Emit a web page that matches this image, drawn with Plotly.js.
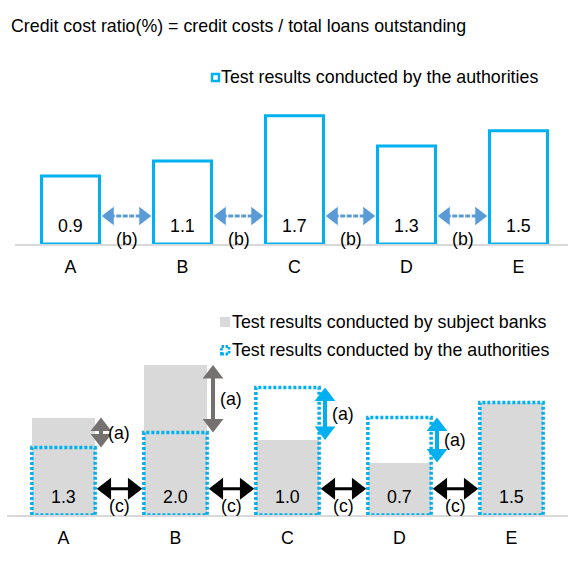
<!DOCTYPE html>
<html>
<head>
<meta charset="utf-8">
<script src="https://cdn.plot.ly/plotly-3.0.1.min.js"></script>
<style>html,body{margin:0;padding:0;background:#fff;}#chart{width:568px;height:570px;}</style>
</head>
<body>
<div id="chart"></div>
<script>
// ---- data ----
const categories = ['A', 'B', 'C', 'D', 'E'];
const authorities = [0.9, 1.1, 1.7, 1.3, 1.5];      // test results conducted by the authorities
const subjectBanks = [1.3, 2.0, 1.0, 0.7, 1.5];     // test results conducted by subject banks
const titleText = 'Credit cost ratio(%) = credit costs / total loans outstanding';
const legendAuthorities = 'Test results conducted by the authorities';
const legendBanks = 'Test results conducted by subject banks';
const gapLabelTop = '(b)';
const gapLabelBottom = '(c)';
const diffLabel = '(a)';

// ---- style ----
const FONT = 'Liberation Sans, Arial, sans-serif';
const FS = 17.8;
const BLUE = '#00B0F0';
const ARROW_B = '#5B9BD5';
const GRAY = '#D9D9D9';
const DARKGRAY = '#767171';
const W = 568, H = 570;
const px = v => v / W;
const py = v => 1 - v / H;

const idx = categories.map((_, i) => i);
const topW = 0.518, grayW = 0.555, dotW = 0.565;

// axis geometry (pixels)
const TOP = { xd: [15, 568], xr: [-0.4955, 4.442], yd: [244, 78], yr: [0, 2.2] };
const BOT = { xd: [7, 568], xr: [-0.5045, 4.5045], yd: [515, 335], yr: [0, 2.4] };
const scaleOf = g => ({
  sx: (g.xd[1] - g.xd[0]) / (g.xr[1] - g.xr[0]),
  sy: (g.yd[0] - g.yd[1]) / (g.yr[1] - g.yr[0])
});

// double-headed arrow built from a line and two triangle markers
function arrow(x0, y0, x1, y1, xa, ya, sc, color, lw, size, dash) {
  const ux = (x1 - x0) * sc.sx, uy = (y1 - y0) * sc.sy;
  const L = Math.hypot(ux, uy);
  const ex = ux / L, ey = uy / L;
  const r = size / 2;
  const sxC = x0 + ex * r / sc.sx, syC = y0 + ey * r / sc.sy;
  const exC = x1 - ex * r / sc.sx, eyC = y1 - ey * r / sc.sy;
  const horiz = Math.abs(ex) > Math.abs(ey);
  const endSym = horiz ? (ex > 0 ? 'triangle-right' : 'triangle-left') : (ey > 0 ? 'triangle-up' : 'triangle-down');
  const startSym = horiz ? (ex > 0 ? 'triangle-left' : 'triangle-right') : (ey > 0 ? 'triangle-down' : 'triangle-up');
  return [
    { type: 'scatter', mode: 'lines', x: [sxC, exC], y: [syC, eyC], xaxis: xa, yaxis: ya,
      line: { color: color, width: lw, dash: dash || 'solid' }, showlegend: false,
      cliponaxis: false, hoverinfo: 'skip' },
    { type: 'scatter', mode: 'markers', x: [sxC, exC], y: [syC, eyC], xaxis: xa, yaxis: ya,
      marker: { symbol: [startSym, endSym], size: size, color: color, line: { width: 0 } },
      showlegend: false, cliponaxis: false, hoverinfo: 'skip' }
  ];
}

// dotted outline path for bottom authorities bars
const dx = [], dy = [];
authorities.forEach((v, i) => {
  const h = dotW / 2;
  dx.push(i - h, i - h, i + h, i + h, i - h, null);
  dy.push(0, v, v, 0, 0, null);
});

const traces = [
  { type: 'bar', x: idx, y: authorities, width: topW, xaxis: 'x', yaxis: 'y',
    marker: { color: '#ffffff', line: { color: BLUE, width: 3 } },
    name: legendAuthorities, showlegend: false, cliponaxis: false, hoverinfo: 'y' },
  { type: 'bar', x: idx, y: subjectBanks, width: grayW, xaxis: 'x2', yaxis: 'y2',
    marker: { color: GRAY, line: { width: 0 } },
    name: legendBanks, showlegend: false, cliponaxis: false, hoverinfo: 'y' },
  { type: 'scatter', mode: 'lines', x: dx, y: dy, xaxis: 'x2', yaxis: 'y2',
    line: { color: BLUE, width: 3.5, dash: '3px,2px' },
    name: legendAuthorities, showlegend: false, cliponaxis: false, hoverinfo: 'skip' }
];

const ann = [];
const txtFont = { family: FONT, size: FS, color: '#000' };
const scTop = scaleOf(TOP), scBot = scaleOf(BOT);

// value labels
authorities.forEach((v, i) => ann.push({ xref: 'x', yref: 'y', x: i, y: 0, yshift: 18,
  text: v.toFixed(1), showarrow: false, font: txtFont }));
subjectBanks.forEach((v, i) => ann.push({ xref: 'x2', yref: 'y2', x: i, y: 0, yshift: 18,
  text: v.toFixed(1), showarrow: false, font: txtFont }));

// (b) arrows between top bars
const arrowYTop = 0.37, arrowYBot = 0.35;
for (let i = 0; i < categories.length - 1; i++) {
  const a = i + topW / 2 + 0.02, b = i + 1 - topW / 2 - 0.02;
  traces.push(...arrow(a, arrowYTop, b, arrowYTop, 'x', 'y', scTop, ARROW_B, 3, 16, '5px,1.5px'));
  ann.push({ xref: 'x', yref: 'y', x: i + 0.5, y: 0, yshift: 5, text: gapLabelTop,
    showarrow: false, font: txtFont });
}
// (c) arrows between bottom bars
for (let i = 0; i < categories.length - 1; i++) {
  const a = i + dotW / 2 + 0.015, b = i + 1 - dotW / 2 - 0.015;
  traces.push(...arrow(a, arrowYBot, b, arrowYBot, 'x2', 'y2', scBot, '#000', 3, 19));
  ann.push({ xref: 'x2', yref: 'y2', x: i + 0.5, y: 0, yshift: 9, text: gapLabelBottom,
    showarrow: false, font: txtFont });
}
// (a) arrows: difference between subject banks and authorities
subjectBanks.forEach((s, i) => {
  const a = authorities[i];
  if (Math.abs(s - a) < 1e-9) return;
  const col = s > a ? DARKGRAY : BLUE;
  const xa = i + 0.335;
  traces.push(...arrow(xa, a, xa, s, 'x2', 'y2', scBot, col, 4, 18));
  ann.push({ xref: 'x2', yref: 'y2', x: xa, y: (s + a) / 2, xanchor: 'left', xshift: 5,
    text: diffLabel, showarrow: false, font: txtFont });
});

// manual legends
ann.push({ xref: 'paper', yref: 'paper', x: px(219), y: py(77), xanchor: 'left', yanchor: 'middle',
  text: legendAuthorities, showarrow: false, font: txtFont });
ann.push({ xref: 'paper', yref: 'paper', x: px(230), y: py(322), xanchor: 'left', yanchor: 'middle',
  text: legendBanks, showarrow: false, font: txtFont });
ann.push({ xref: 'paper', yref: 'paper', x: px(230), y: py(350), xanchor: 'left', yanchor: 'middle',
  text: legendAuthorities, showarrow: false, font: txtFont });

const shapes = [
  { type: 'rect', xref: 'paper', yref: 'paper', x0: px(212), x1: px(219), y0: py(81), y1: py(74),
    fillcolor: '#fff', line: { color: BLUE, width: 2.5 } },
  { type: 'rect', xref: 'paper', yref: 'paper', x0: px(220), x1: px(230), y0: py(327), y1: py(317),
    fillcolor: GRAY, line: { width: 0 } },
  { type: 'rect', xref: 'paper', yref: 'paper', x0: px(221.5), x1: px(229), y0: py(354), y1: py(346.5),
    fillcolor: '#fff', line: { color: BLUE, width: 2.8, dash: '2.5px,1.5px' } }
];

const xCommon = { tickmode: 'array', tickvals: idx, ticktext: categories, showgrid: false,
  zeroline: false, showline: true, linecolor: GRAY, linewidth: 2, ticks: '',
  tickfont: txtFont, ticklabelstandoff: 6, fixedrange: true };

const layout = {
  width: W, height: H,
  margin: { l: 0, r: 0, t: 0, b: 0, pad: 0 },
  paper_bgcolor: '#fff', plot_bgcolor: '#fff',
  showlegend: false,
  bargap: 0,
  font: { family: FONT, size: FS, color: '#000' },
  title: { text: titleText, xref: 'container', yref: 'container', x: px(11), xanchor: 'left',
    y: py(26), yanchor: 'middle', font: { family: FONT, size: FS, color: '#000' } },
  xaxis: Object.assign({}, xCommon, { domain: [px(TOP.xd[0]), px(TOP.xd[1])], range: TOP.xr, anchor: 'y' }),
  yaxis: { domain: [py(TOP.yd[0]), py(TOP.yd[1])], range: TOP.yr, visible: false, fixedrange: true },
  xaxis2: Object.assign({}, xCommon, { domain: [px(BOT.xd[0]), px(BOT.xd[1])], range: BOT.xr, anchor: 'y2' }),
  yaxis2: { domain: [py(BOT.yd[0]), py(BOT.yd[1])], range: BOT.yr, visible: false, fixedrange: true },
  annotations: ann,
  shapes: shapes
};

Plotly.newPlot('chart', traces, layout, { displayModeBar: false, staticPlot: true });
</script>
</body>
</html>
